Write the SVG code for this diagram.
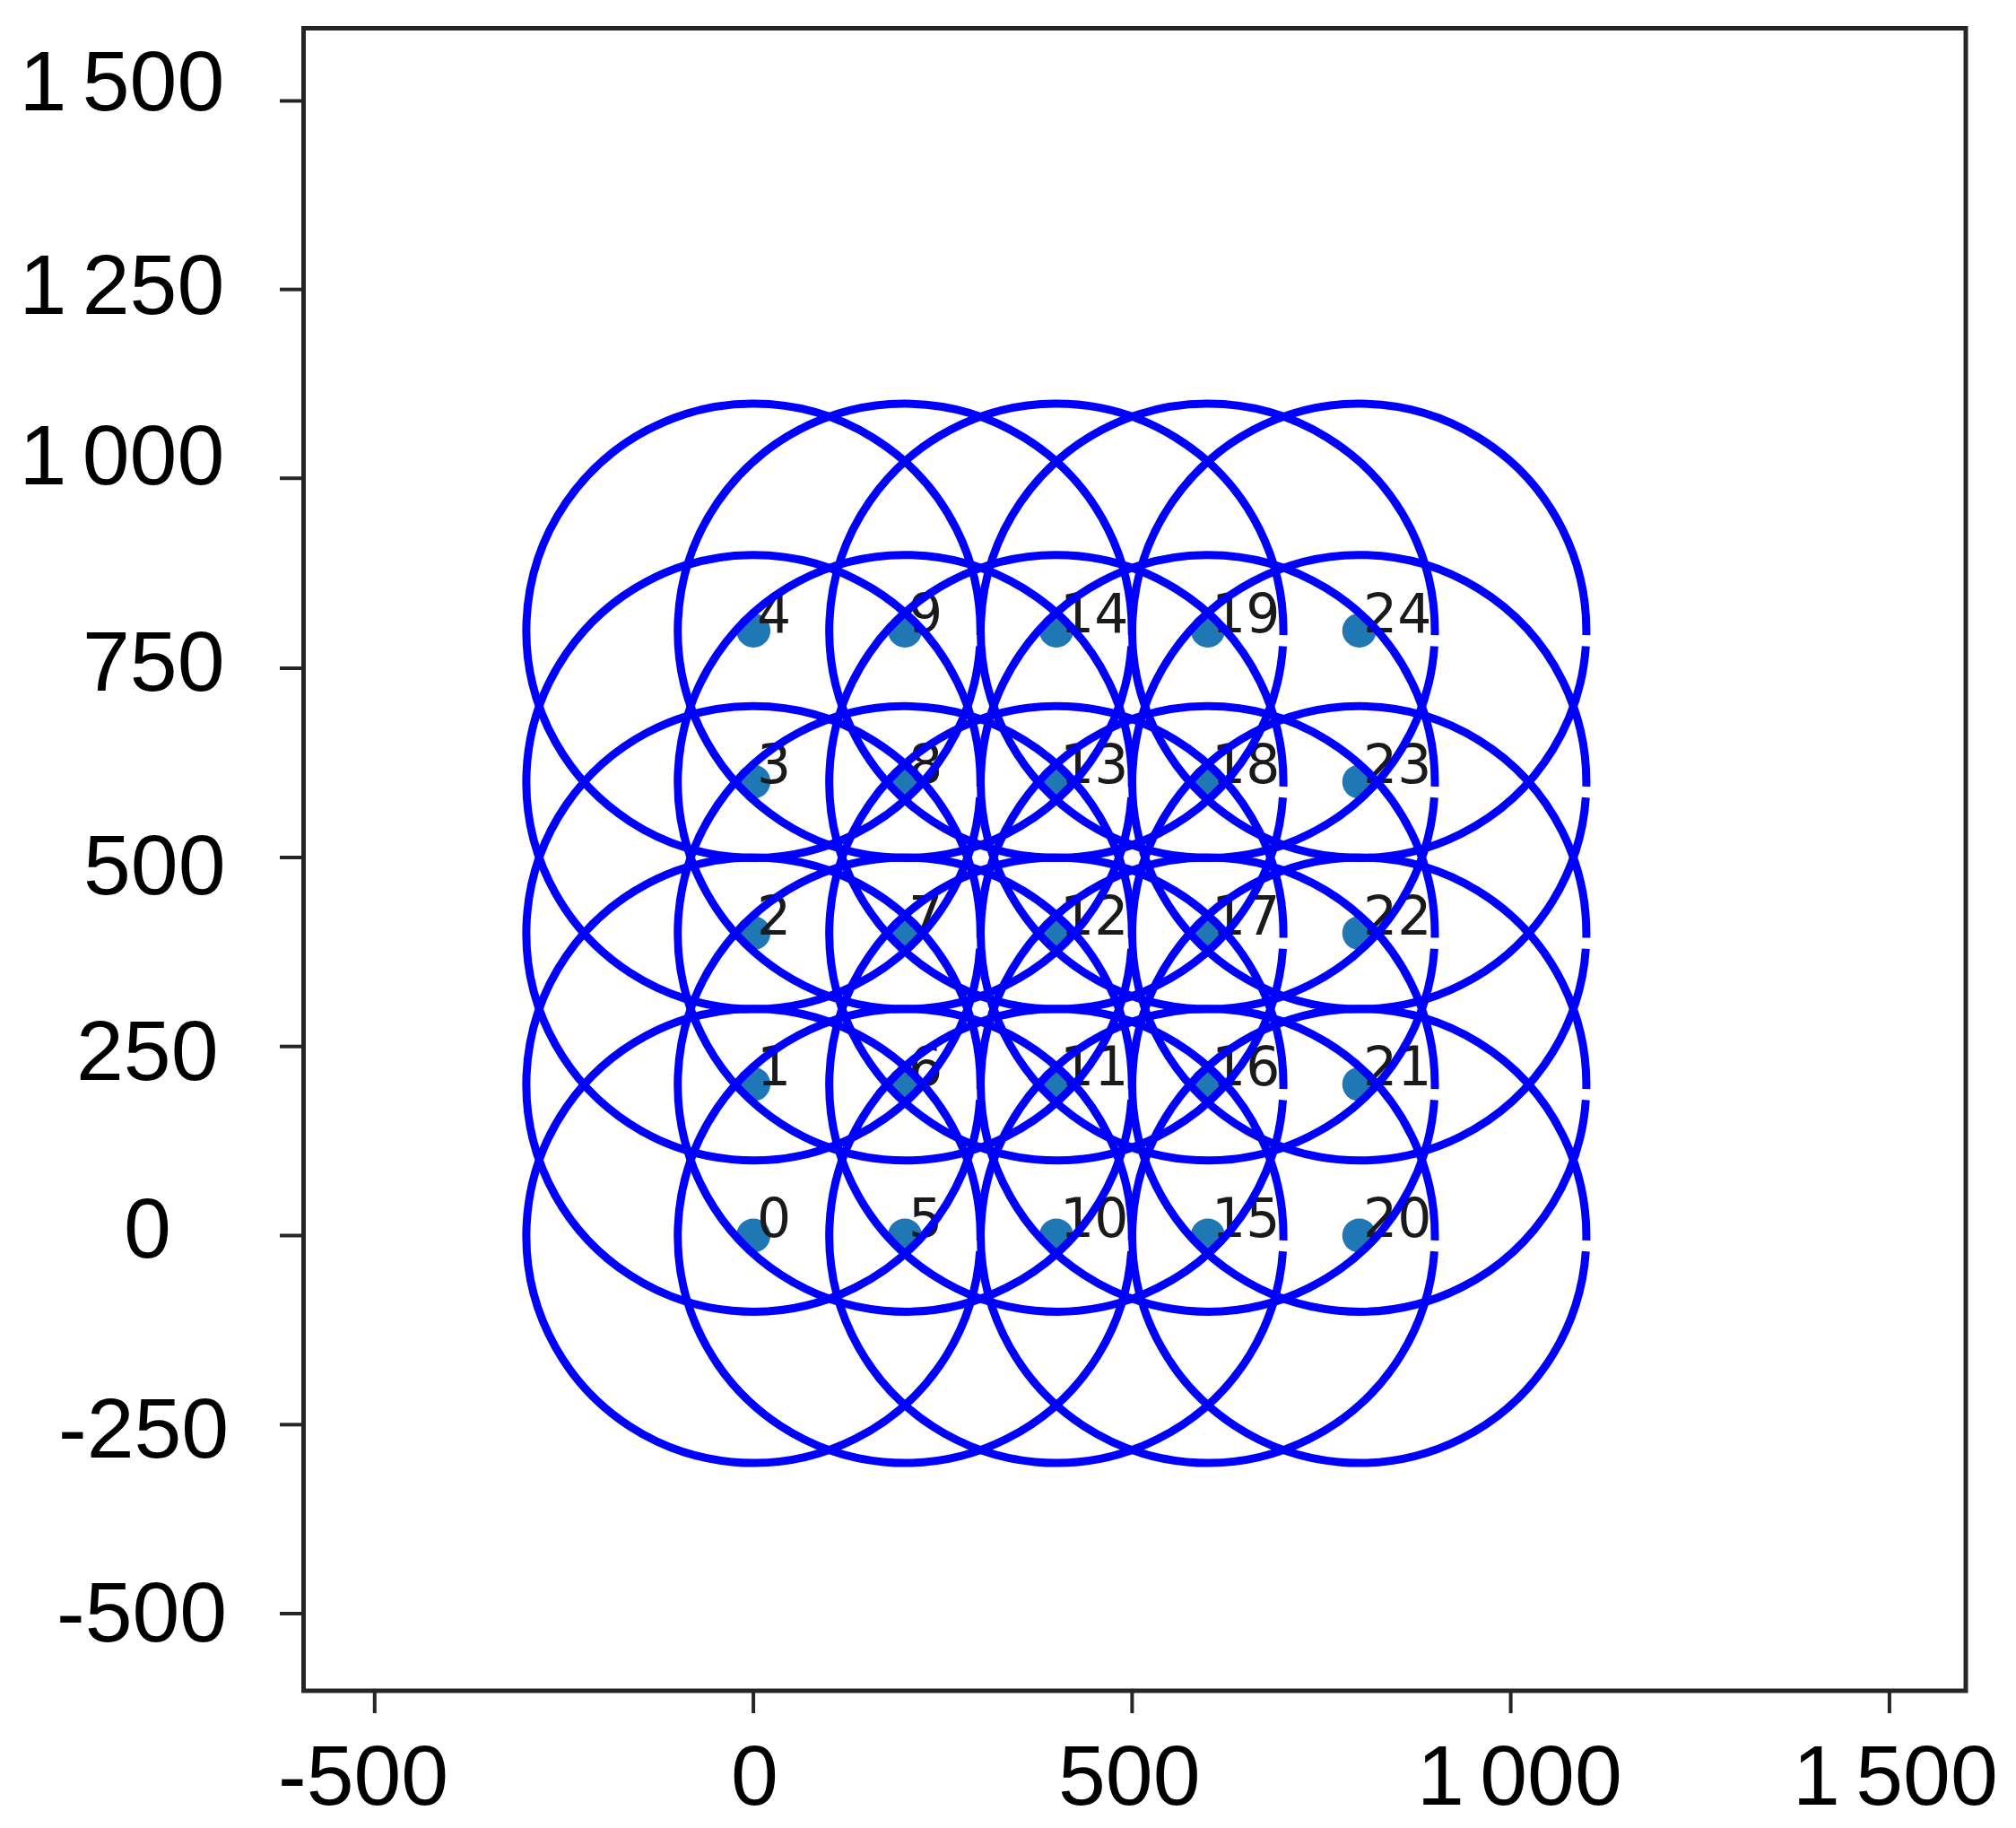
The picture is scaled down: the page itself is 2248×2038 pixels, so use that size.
<svg xmlns="http://www.w3.org/2000/svg" xmlns:xlink="http://www.w3.org/1999/xlink" width="2248" height="2038" viewBox="0 0 2248 2038">
<style>
.frame{fill:none;stroke:#262626;stroke-width:5}
.tick{stroke:#262626;stroke-width:4}
.tl{font-family:"Liberation Sans",Arial,sans-serif;font-size:95px;fill:#000}
.ns{word-spacing:-9px}
.dot{fill:#1f77b4}
.pl{font-family:"DejaVu Sans",sans-serif;font-size:60px;fill:#1a1a1a}
.circ{fill:none;stroke:#0000ff;stroke-width:9}
</style>
<defs>
<path id="ring" d="M252.6 17.6 A253.2 253.2 0 1 1 253.14 5.30"/>
</defs>
<rect width="2248" height="2038" fill="#fff"/>
<g id="axes">
<rect class="frame" x="338.5" y="31.5" width="1853.5" height="1853.5"/>
<g id="yticks">
<line class="tick" x1="312" y1="112.5" x2="338" y2="112.5"/>
<line class="tick" x1="312" y1="322.7" x2="338" y2="322.7"/>
<line class="tick" x1="312" y1="533.2" x2="338" y2="533.2"/>
<line class="tick" x1="312" y1="745" x2="338" y2="745"/>
<line class="tick" x1="312" y1="956" x2="338" y2="956"/>
<line class="tick" x1="312" y1="1166.7" x2="338" y2="1166.7"/>
<line class="tick" x1="312" y1="1377.5" x2="338" y2="1377.5"/>
<line class="tick" x1="312" y1="1588.3" x2="338" y2="1588.3"/>
<line class="tick" x1="312" y1="1799" x2="338" y2="1799"/>
</g>
<g id="xticks">
<line class="tick" x1="417.8" y1="1885" x2="417.8" y2="1910"/>
<line class="tick" x1="840.1" y1="1885" x2="840.1" y2="1910"/>
<line class="tick" x1="1262.4" y1="1885" x2="1262.4" y2="1910"/>
<line class="tick" x1="1684.6" y1="1885" x2="1684.6" y2="1910"/>
<line class="tick" x1="2106.9" y1="1885" x2="2106.9" y2="1910"/>
</g>
<g id="ylabels">
<text class="tl ns" x="21.5" y="123">1 500</text>
<text class="tl ns" x="21.5" y="350">1 250</text>
<text class="tl ns" x="21.5" y="540">1 000</text>
<text class="tl" x="92" y="770">750</text>
<text class="tl" x="93" y="997">500</text>
<text class="tl" x="85" y="1204">250</text>
<text class="tl" x="138" y="1402">0</text>
<text class="tl" x="65" y="1625">-250</text>
<text class="tl" x="63" y="1830">-500</text>
</g>
<g id="xlabels">
<text class="tl" x="310" y="2012">-500</text>
<text class="tl" x="815" y="2012">0</text>
<text class="tl" x="1180" y="2012">500</text>
<text class="tl ns" x="1580" y="2012">1 000</text>
<text class="tl ns" x="1999" y="2012">1 500</text>
</g>
</g>
<g id="dots">
<circle class="dot" cx="840.1" cy="1377.5" r="19"/>
<circle class="dot" cx="840.1" cy="1208.8" r="19"/>
<circle class="dot" cx="840.1" cy="1040.2" r="19"/>
<circle class="dot" cx="840.1" cy="871.5" r="19"/>
<circle class="dot" cx="840.1" cy="702.9" r="19"/>
<circle class="dot" cx="1009" cy="1377.5" r="19"/>
<circle class="dot" cx="1009" cy="1208.8" r="19"/>
<circle class="dot" cx="1009" cy="1040.2" r="19"/>
<circle class="dot" cx="1009" cy="871.5" r="19"/>
<circle class="dot" cx="1009" cy="702.9" r="19"/>
<circle class="dot" cx="1177.9" cy="1377.5" r="19"/>
<circle class="dot" cx="1177.9" cy="1208.8" r="19"/>
<circle class="dot" cx="1177.9" cy="1040.2" r="19"/>
<circle class="dot" cx="1177.9" cy="871.5" r="19"/>
<circle class="dot" cx="1177.9" cy="702.9" r="19"/>
<circle class="dot" cx="1346.8" cy="1377.5" r="19"/>
<circle class="dot" cx="1346.8" cy="1208.8" r="19"/>
<circle class="dot" cx="1346.8" cy="1040.2" r="19"/>
<circle class="dot" cx="1346.8" cy="871.5" r="19"/>
<circle class="dot" cx="1346.8" cy="702.9" r="19"/>
<circle class="dot" cx="1515.7" cy="1377.5" r="19"/>
<circle class="dot" cx="1515.7" cy="1208.8" r="19"/>
<circle class="dot" cx="1515.7" cy="1040.2" r="19"/>
<circle class="dot" cx="1515.7" cy="871.5" r="19"/>
<circle class="dot" cx="1515.7" cy="702.9" r="19"/>
</g>
<g id="point-labels">
<text class="pl" x="844" y="1379">0</text>
<text class="pl" x="844" y="1210">1</text>
<text class="pl" x="844" y="1042">2</text>
<text class="pl" x="844" y="873">3</text>
<text class="pl" x="844" y="705">4</text>
<text class="pl" x="1013" y="1379">5</text>
<text class="pl" x="1013" y="1210">6</text>
<text class="pl" x="1013" y="1042">7</text>
<text class="pl" x="1013" y="873">8</text>
<text class="pl" x="1013" y="705">9</text>
<text class="pl" x="1182" y="1379">10</text>
<text class="pl" x="1182" y="1210">11</text>
<text class="pl" x="1182" y="1042">12</text>
<text class="pl" x="1182" y="873">13</text>
<text class="pl" x="1182" y="705">14</text>
<text class="pl" x="1351" y="1379">15</text>
<text class="pl" x="1351" y="1210">16</text>
<text class="pl" x="1351" y="1042">17</text>
<text class="pl" x="1351" y="873">18</text>
<text class="pl" x="1351" y="705">19</text>
<text class="pl" x="1520" y="1379">20</text>
<text class="pl" x="1520" y="1210">21</text>
<text class="pl" x="1520" y="1042">22</text>
<text class="pl" x="1520" y="873">23</text>
<text class="pl" x="1520" y="705">24</text>
</g>
<g id="circles">
<use class="circ" xlink:href="#ring" x="840.1" y="1377.5"/>
<use class="circ" xlink:href="#ring" x="840.1" y="1208.8"/>
<use class="circ" xlink:href="#ring" x="840.1" y="1040.2"/>
<use class="circ" xlink:href="#ring" x="840.1" y="871.5"/>
<use class="circ" xlink:href="#ring" x="840.1" y="702.9"/>
<use class="circ" xlink:href="#ring" x="1009" y="1377.5"/>
<use class="circ" xlink:href="#ring" x="1009" y="1208.8"/>
<use class="circ" xlink:href="#ring" x="1009" y="1040.2"/>
<use class="circ" xlink:href="#ring" x="1009" y="871.5"/>
<use class="circ" xlink:href="#ring" x="1009" y="702.9"/>
<use class="circ" xlink:href="#ring" x="1177.9" y="1377.5"/>
<use class="circ" xlink:href="#ring" x="1177.9" y="1208.8"/>
<use class="circ" xlink:href="#ring" x="1177.9" y="1040.2"/>
<use class="circ" xlink:href="#ring" x="1177.9" y="871.5"/>
<use class="circ" xlink:href="#ring" x="1177.9" y="702.9"/>
<use class="circ" xlink:href="#ring" x="1346.8" y="1377.5"/>
<use class="circ" xlink:href="#ring" x="1346.8" y="1208.8"/>
<use class="circ" xlink:href="#ring" x="1346.8" y="1040.2"/>
<use class="circ" xlink:href="#ring" x="1346.8" y="871.5"/>
<use class="circ" xlink:href="#ring" x="1346.8" y="702.9"/>
<use class="circ" xlink:href="#ring" x="1515.7" y="1377.5"/>
<use class="circ" xlink:href="#ring" x="1515.7" y="1208.8"/>
<use class="circ" xlink:href="#ring" x="1515.7" y="1040.2"/>
<use class="circ" xlink:href="#ring" x="1515.7" y="871.5"/>
<use class="circ" xlink:href="#ring" x="1515.7" y="702.9"/>
</g>
</svg>
